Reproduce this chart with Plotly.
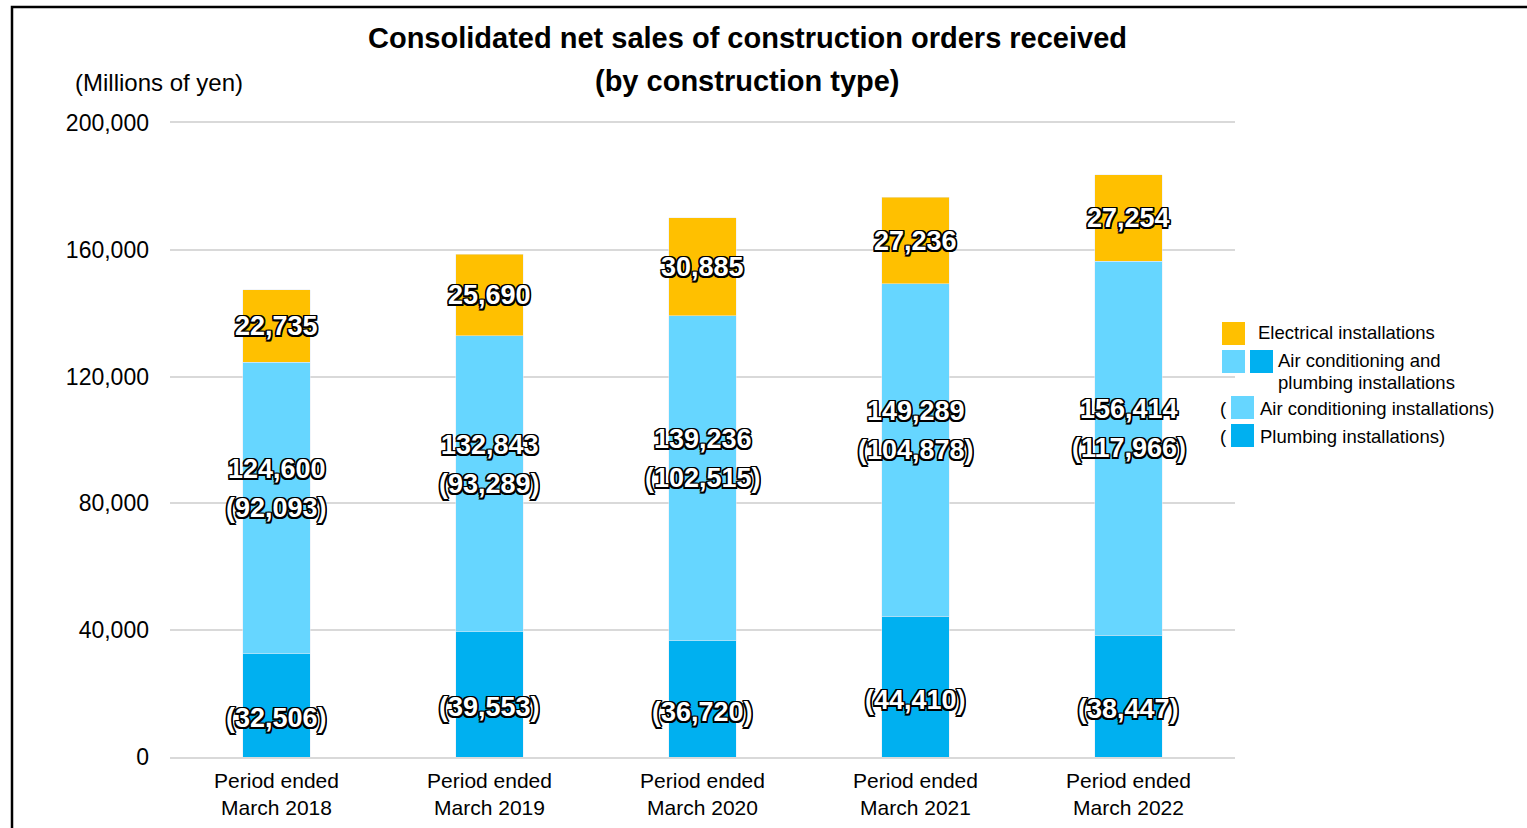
import plotly.graph_objects as go

categories = ["Period ended<br>March 2018", "Period ended<br>March 2019", "Period ended<br>March 2020",
              "Period ended<br>March 2021", "Period ended<br>March 2022"]
plumbing = [32506, 39553, 36720, 44410, 38447]
air_conditioning = [92093, 93289, 102515, 104878, 117966]
ac_and_plumbing = [124600, 132843, 139236, 149289, 156414]
electrical = [22735, 25690, 30885, 27236, 27254]
y_ticks = [0, 40000, 80000, 120000, 160000, 200000]

C_ELEC = "#FFC000"
C_AC = "#66D6FF"
C_PL = "#00B0F0"

W, H = 1527, 828
L, R, T, B = 170, 1235, 123, 757


def px(x):
    return (x - L) / (R - L)


def py(y):
    return (B - y) / (B - T)


fig = go.Figure()
fig.add_bar(x=categories, y=plumbing, marker_color=C_PL, name="Plumbing installations")
fig.add_bar(x=categories, y=air_conditioning, marker_color=C_AC, name="Air conditioning installations")
fig.add_bar(x=categories, y=electrical, marker_color=C_ELEC, name="Electrical installations")

outline = ("-1.5px -1.5px 0 #000, 1.5px -1.5px 0 #000, -1.5px 1.5px 0 #000, 1.5px 1.5px 0 #000, "
           "0 1.5px 0 #000, 0 -1.5px 0 #000, 1.5px 0 0 #000, -1.5px 0 0 #000")
lab_font = dict(family="Liberation Sans, Arial", size=27, color="white", weight="bold", shadow=outline)

ann = []
for i, c in enumerate(categories):
    ann.append(dict(x=c, y=ac_and_plumbing[i] + electrical[i] / 2, xref="x", yref="y",
                    xanchor="center", yanchor="middle",
                    text=f"{electrical[i]:,}", showarrow=False, font=lab_font))
    mid_ac = plumbing[i] + air_conditioning[i] / 2
    ann.append(dict(x=c, y=mid_ac, xref="x", yref="y", xanchor="center", yanchor="middle",
                    text=f"({air_conditioning[i]:,})", showarrow=False, font=lab_font))
    ann.append(dict(x=c, y=mid_ac, xref="x", yref="y", yshift=39, xanchor="center", yanchor="middle",
                    text=f"{ac_and_plumbing[i]:,}", showarrow=False, font=lab_font))
    ann.append(dict(x=c, y=plumbing[i] / 2, xref="x", yref="y", yshift=-13, xanchor="center", yanchor="middle",
                    text=f"({plumbing[i]:,})", showarrow=False, font=lab_font))

title_font = dict(family="Liberation Sans, Arial", size=29, color="black", weight="bold")
ann.append(dict(x=px(747), y=py(38), xref="paper", yref="paper", showarrow=False,
                xanchor="center", yanchor="middle",
                text="Consolidated net sales of construction orders received", font=title_font))
ann.append(dict(x=px(747), y=py(81), xref="paper", yref="paper", showarrow=False,
                xanchor="center", yanchor="middle",
                text="(by construction type)", font=title_font))
ann.append(dict(x=px(159), y=py(83), xref="paper", yref="paper", showarrow=False,
                xanchor="center", yanchor="middle",
                text="(Millions of yen)", font=dict(family="Liberation Sans, Arial", size=24, color="black")))

# custom legend
leg_font = dict(family="Liberation Sans, Arial", size=18.5, color="black")
shapes = []


def swatch(x0, y0, x1, y1, col):
    shapes.append(dict(type="rect", xref="paper", yref="paper", x0=px(x0), x1=px(x1), y0=py(y0), y1=py(y1),
                       fillcolor=col, line=dict(width=0)))


def ltext(x, y, t):
    ann.append(dict(x=px(x), y=py(y), xref="paper", yref="paper", xanchor="left", yanchor="middle",
                    showarrow=False, text=t, font=leg_font))


swatch(1222, 322, 1245, 345, C_ELEC)
ltext(1256, 332, "Electrical installations")
swatch(1222, 350, 1245, 373, C_AC)
swatch(1250, 350, 1273, 373, C_PL)
ltext(1276, 360, "Air conditioning and")
ltext(1276, 382, "plumbing installations")
ltext(1218, 408, "(")
swatch(1231, 396, 1254, 419, C_AC)
ltext(1258, 408, "Air conditioning installations)")
ltext(1218, 436, "(")
swatch(1231, 424, 1254, 447, C_PL)
ltext(1258, 436, "Plumbing installations)")

# frame
shapes.append(dict(type="path", xref="paper", yref="paper",
                   path=f"M {px(12)} {py(840)} L {px(12)} {py(7)} L {px(1540)} {py(7)}",
                   line=dict(color="black", width=2.5)))

fig.update_layout(
    barmode="stack",
    bargap=0.685,
    width=W, height=H,
    margin=dict(l=L, r=W - R, t=T, b=H - B, autoexpand=False),
    plot_bgcolor="white", paper_bgcolor="white",
    showlegend=False,
    annotations=ann,
    shapes=shapes,
    font=dict(family="Liberation Sans, Arial", color="black"),
)
fig.update_yaxes(range=[0, 200000], tickvals=y_ticks, tickformat=",", showgrid=True,
                 gridcolor="#D9D9D9", gridwidth=1.5, zeroline=False, showline=False,
                 tickfont=dict(size=23, color="black"), ticklabelstandoff=20)
fig.update_xaxes(showline=True, mirror=True, linecolor="#D9D9D9", linewidth=1.5, showgrid=False,
                 tickfont=dict(size=21, color="black"), ticklabelstandoff=4)

fig.write_html("out.html", config={"displayModeBar": False},
               post_script="document.body.style.margin='0px';")
